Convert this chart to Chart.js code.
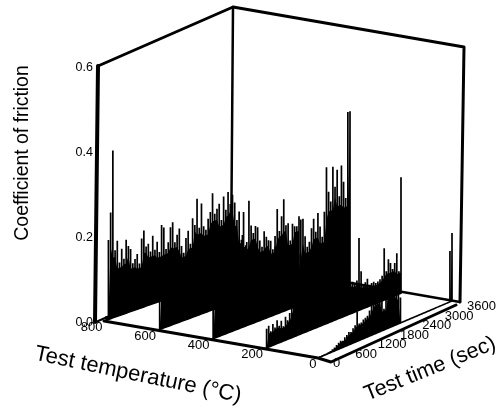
<!DOCTYPE html>
<html>
<head>
<meta charset="utf-8">
<style>
  html, body { margin: 0; padding: 0; background: #fff; }
  canvas { display: block; }
</style>
<script src="https://cdn.jsdelivr.net/npm/chart.js@4/dist/chart.umd.min.js"></script>
</head>
<body>
<canvas id="frictionChart" width="498" height="414"></canvas>
<script>
// friction traces, evenly spaced over the 3600 s test
const temperatures = [800, 600, 400, 200, 0];
const cof800 = [0,.01,.187,.25,.394,.157,.178,.125,.155,.13,.173,.156,.147,.112,.12,.13,.106,.163,.18,.14,.145,.125,.16,.125,.142,.116,.178,.17,.118,.132,.165,.175,.126,.142,.155,.112,.094,.127,.142,.11,.168,.15,.21,.14,.195,.14,.13,.154,.168,.21,.16,.17,.18,.14,.193,.16,.2,.17,.19,.17,.127,.145,.077,.14,.06,.05];
const cof600 = [0,.1,.13,.11,.14,.1,.12,.15,.09,.13,.11,.16,.12,.1,.14,.09,.13,.16,.11,.12,.15,.1,.13,.09,.14,.12,.17,.11,.1,.15,.12,.09,.14,.11,.16,.1,.13,.12,.09,.15,.12,.13,.225,.165,.145,.16,.155,.122,.105,.14,.125,.115,.112,.09,.119,.181,.127,.16,.198,.135,.138,.095,.133,.125,.123,.145];
const cof400 = [0,.1,.12,.09,.14,.11,.1,.13,.16,.09,.12,.1,.15,.11,.13,.09,.14,.12,.1,.16,.11,.09,.13,.12,.15,.1,.14,.09,.12,.11,.16,.1,.13,.09,.14,.12,.11,.15,.1,.13,.09,.12,.2,.2,.157,.13,.14,.17,.19,.158,.2,.166,.14,.197,.3,.24,.215,.295,.246,.284,.22,.29,.25,.21,.41,.41];
const cof200 = [0,.045,.05,.035,.05,.04,.055,.04,.05,.035,.055,.045,.06,.075,.085,.09,.11,.08,.12,.1,.09,.13,.1,.08,.12,.09,.11,.13,.08,.1,.12,.09,.11,.08,.13,.1,.09,.12,.08,.11,.1,.073,.073,.067,.072,.17,.09,.056,.06,.066,.05,.052,.053,.048,.05,.053,.059,.122,.066,.092,.081,.065,.077,.098,.054,.273];
const cof0 = [0,.002,.002,.002,.002,.003,.004,.006,.008,.012,.015,.018,.016,.022,.025,.03,.028,.035,.04,.07,.04,.04,.045,.047,.05,.06,.07,.075,.075,.075,.08,.075,.05,.08,.085,.08,.075,.08,.075,.07,.06,0,0,0,0,0,0,0,0,0,0,0,0,0,0,0,0,0,0,0,0,0,0,0,.12,.16];
const cofSeries = [cof800, cof600, cof400, cof200, cof0];

const cofTicks = [0, 0.2, 0.4, 0.6];
const tempTicks = [800, 600, 400, 200, 0];
const timeTicks = [0, 600, 1200, 1800, 2400, 3000, 3600];

// where the floor of the 3d box lands on the page
const floor = {
  front800: [104, 321], back800: [248, 270],
  front0: [318, 358], back0: [452, 301]
};
const pxPerCof = 425;

function project(temp, time, cof) {
  const a = 1 - temp / 800, b = time / 3600;
  const fx = floor.front800[0] + (floor.front0[0] - floor.front800[0]) * a;
  const fy = floor.front800[1] + (floor.front0[1] - floor.front800[1]) * a;
  const bx = floor.back800[0] + (floor.back0[0] - floor.back800[0]) * a;
  const by = floor.back800[1] + (floor.back0[1] - floor.back800[1]) * a;
  return { x: fx + (bx - fx) * b, y: fy + (by - fy) * b - cof * pxPerCof };
}

function lineSet(points, width) {
  return { data: points, showLine: true, borderColor: '#000', borderWidth: width, pointRadius: 0, borderCapStyle: 'round', borderJoinStyle: 'round' };
}

const datasets = [];

temperatures.forEach((temp, s) => {
  const vals = cofSeries[s];
  const timeAt = i => i * 3600 / (vals.length - 1);
  // solid mass under the valleys of the trace
  const mass = vals.map((v, i) => {
    const low = Math.min(v, vals[Math.max(i - 1, 0)], vals[Math.min(i + 1, vals.length - 1)]);
    return project(temp, timeAt(i), low * 0.9);
  });
  datasets.push({ ...lineSet(mass, 0), fill: '+1', backgroundColor: '#000' });
  datasets.push(lineSet(vals.map((v, i) => project(temp, timeAt(i), 0)), 1.6));
  // each reading is one vertical stroke up from the floor
  const pts = [];
  vals.forEach((v, i) => {
    pts.push(project(temp, timeAt(i), 0), project(temp, timeAt(i), v), { x: NaN, y: NaN });
  });
  datasets.push({ ...lineSet(pts, 1.7), borderCapStyle: 'butt' });
});

// box outline
datasets.push(lineSet([{ x: 95, y: 322 }, { x: 98, y: 66 }], 4));
datasets.push(lineSet([{ x: 98, y: 66 }, { x: 233, y: 7 }, { x: 464, y: 47 }, { x: 460, y: 302 }], 3));
datasets.push(lineSet([{ x: 233, y: 7 }, { x: 231, y: 262 }], 2.5));
datasets.push(lineSet([{ x: 231, y: 262 }, { x: 460, y: 302 }], 2.5));
datasets.push(lineSet([{ x: 96, y: 322 }, { x: 231, y: 262 }], 2));
// floor axes
datasets.push(lineSet([project(800, 0, 0), project(0, 0, 0), { x: 331, y: 362 }, { x: 456, y: 305 }], 3));

const textPlugin = {
  id: 'boxText',
  afterDraw(chart) {
    const c = chart.ctx;
    c.save();
    c.fillStyle = '#000';
    c.textBaseline = 'middle';
    c.font = '12.5px "Liberation Sans"';
    c.textAlign = 'right';
    cofTicks.forEach(v => {
      c.fillText(v.toFixed(1), 93, project(800, 0, v).y + 2);
    });
    c.font = '13px "Liberation Sans"';
    tempTicks.forEach(t => {
      const p = project(t, 0, 0);
      c.fillText(String(t), p.x - 1.5, p.y + 6);
    });
    c.textAlign = 'left';
    timeTicks.forEach(t => {
      const p = project(0, t, 0);
      c.fillText(String(t), p.x + 15, p.y + 5.5);
    });
    c.textAlign = 'center';
    const title = (text, x, y, deg, size) => {
      c.save();
      c.font = size + 'px "Liberation Sans"';
      c.translate(x, y);
      c.rotate(deg * Math.PI / 180);
      c.fillText(text, 0, 0);
      c.restore();
    };
    title('Coefficient of friction', 23, 153, -90, 19.4);
    title('Test temperature (\u00B0C)', 138, 375, 11.7, 22);
    title('Test time (sec)', 430, 369, -22, 21.5);
    c.restore();
  }
};

new Chart(document.getElementById('frictionChart'), {
  type: 'scatter',
  data: { datasets },
  options: {
    responsive: false,
    animation: false,
    layout: { padding: 0 },
    plugins: { legend: { display: false }, tooltip: { enabled: false }, title: { display: false } },
    scales: {
      x: { type: 'linear', min: 0, max: 498, display: false },
      y: { type: 'linear', min: 0, max: 414, reverse: true, display: false }
    }
  },
  plugins: [textPlugin]
});
</script>
</body>
</html>
